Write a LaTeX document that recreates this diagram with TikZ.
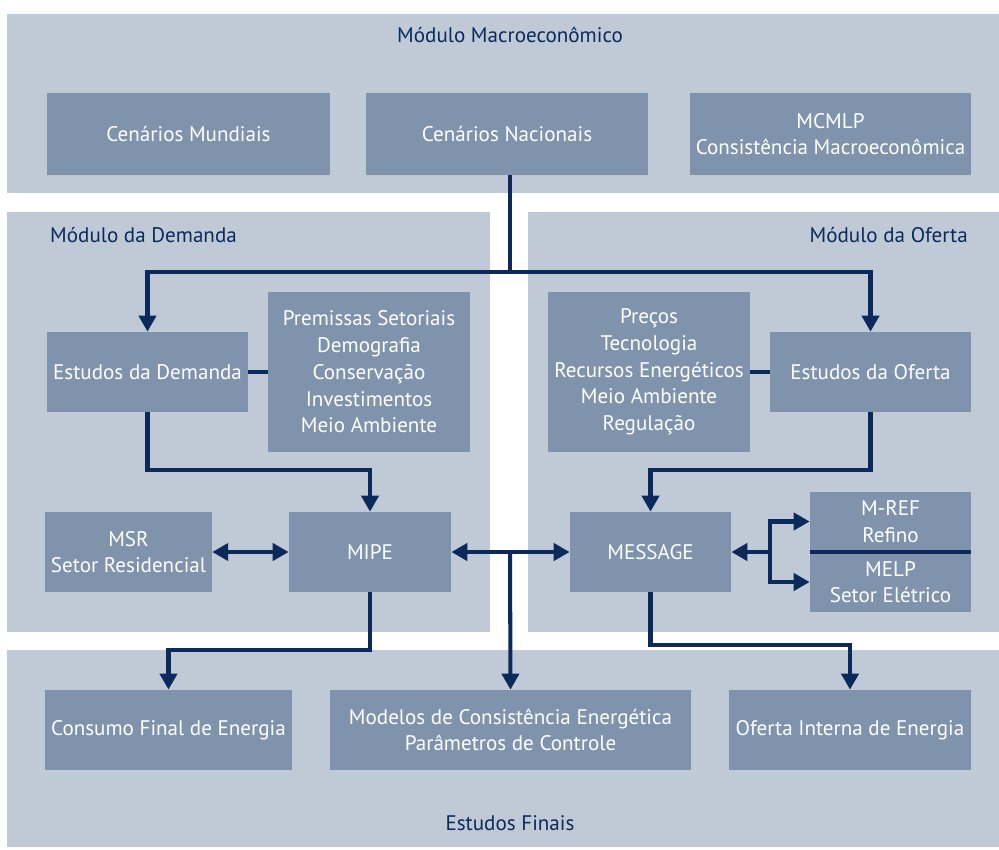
\documentclass[tikz,border=0pt]{standalone}
\usepackage{fontspec}
\setmainfont{PT Sans}
\usepackage{tikz}
\usetikzlibrary{arrows.meta, positioning, calc}
\usepackage{xcolor}
\definecolor{painel}{HTML}{C0CAD7}
\definecolor{caixa}{HTML}{7F93AD}
\definecolor{marinho}{HTML}{0B2A5B}
\tikzstyle{painel} = [rectangle, fill = painel, draw = none, inner sep = 0pt]
\tikzstyle{caixa} = [rectangle, fill = caixa, draw = none, text = white, align = center, minimum height = 1.6cm, font = \fontsize{12}{15.2}\selectfont]
\tikzstyle{titulo} = [text = marinho, font = \fontsize{12}{15.2}\selectfont]
\tikzstyle{liga} = [draw = marinho, line width = 2.3pt]

\begin{document}
\begin{tikzpicture}[x = 0.02cm, y = -0.02cm, >={Triangle[length = 0.32cm, width = 0.34cm]}]
\useasboundingbox (0,0) rectangle (999,849);
% paineis
\node (macro) [painel, minimum width = 19.84cm, minimum height = 3.58cm] at (503,103.5) {};
\node (dem) [painel, minimum width = 9.66cm, minimum height = 8.4cm] at (248.5,422) {};
\node (ofe) [painel, minimum width = 9.42cm, minimum height = 8.4cm] at (763.5,422) {};
\node (fin) [painel, minimum width = 19.84cm, minimum height = 3.94cm] at (503,748.5) {};
\node (tmacro) [titulo] at (510,35) {Módulo Macroeconômico};
\node (tdem) [titulo, anchor = west] at (44,235) {Módulo da Demanda};
\node (tofe) [titulo, anchor = east] at (974,235) {Módulo da Oferta};
\node (tfin) [titulo] at (510,823) {Estudos Finais};
% caixas
\node (mund) [caixa, minimum width = 5.66cm, minimum height = 1.64cm] at (188.5,134) {Cenários Mundiais};
\node (nac) [caixa, minimum width = 5.64cm, minimum height = 1.64cm] at (507,134) {Cenários Nacionais};
\node (mcmlp) [caixa, minimum width = 5.62cm, minimum height = 1.64cm] at (830.5,134) {MCMLP\\Consistência Macroeconômica};
\node (estdem) [caixa, minimum width = 4.02cm] at (147.5,372) {Estudos da Demanda};
\node (prem) [caixa, minimum width = 4.04cm, minimum height = 3.2cm] at (369,372) {Premissas Setoriais\\Demografia\\Conservação\\Investimentos\\Meio Ambiente};
\node (precos) [caixa, minimum width = 4.04cm, minimum height = 3.2cm] at (649,372) {Preços\\Tecnologia\\Recursos Energéticos\\Meio Ambiente\\Regulação};
\node (estof) [caixa, minimum width = 4.02cm] at (870.5,372) {Estudos da Oferta};
\node (msr) [caixa, minimum width = 3.26cm] at (128.5,552) {MSR\\Setor Residencial};
\node (mipe) [caixa, minimum width = 3.24cm] at (370,552) {MIPE};
\node (message) [caixa, minimum width = 3.22cm] at (650.5,552) {MESSAGE};
\node (mref) [caixa, minimum width = 3.22cm, minimum height = 1.19cm] at (890.5,521.5) {M-REF\\Refino};
\node (melp) [caixa, minimum width = 3.22cm, minimum height = 1.2cm] at (890.5,582) {MELP\\Setor Elétrico};
\node (consumo) [caixa, minimum width = 4.86cm] at (168.5,730) {Consumo Final de Energia};
\node (modelos) [caixa, minimum width = 7.22cm] at (510.5,730) {Modelos de Consistência Energética\\Parâmetros de Controle};
\node (oferta) [caixa, minimum width = 4.84cm] at (850,730) {Oferta Interna de Energia};
% ligacoes
\coordinate (split) at (510,272);
\draw[liga] (nac.south -| split) -- (split);
\draw[liga, ->] (split) -| (estdem.north);
\draw[liga, ->] (split) -| (estof.north);
\draw[liga] (estdem) -- (prem);
\draw[liga] (precos) -- (estof);
\draw[liga, ->] (estdem.south) -- ++(0,58) -| (mipe.north);
\draw[liga, ->] (estof.south) -- ++(0,58) -| (message.north);
\draw[liga, <->] (msr) -- (mipe);
\draw[liga, <->] (mipe) -- (message);
\draw[liga, ->] (mipe.east -| split) -- (modelos.north);
\coordinate (fork) at ($(message.east)+(39,0)$);
\draw[liga, ->] (fork) -- (message.east);
\draw[liga, ->] (fork) |- (mref.west);
\draw[liga, ->] (fork) |- (melp.west);
\draw[liga] (mref.south west) -- (mref.south east);
\draw[liga, ->] (mipe.south) -- ++(0,58) -| (consumo.north);
\draw[liga, ->] (message.south) -- ++(0,53) -| (oferta.north);
\end{tikzpicture}
\end{document}
